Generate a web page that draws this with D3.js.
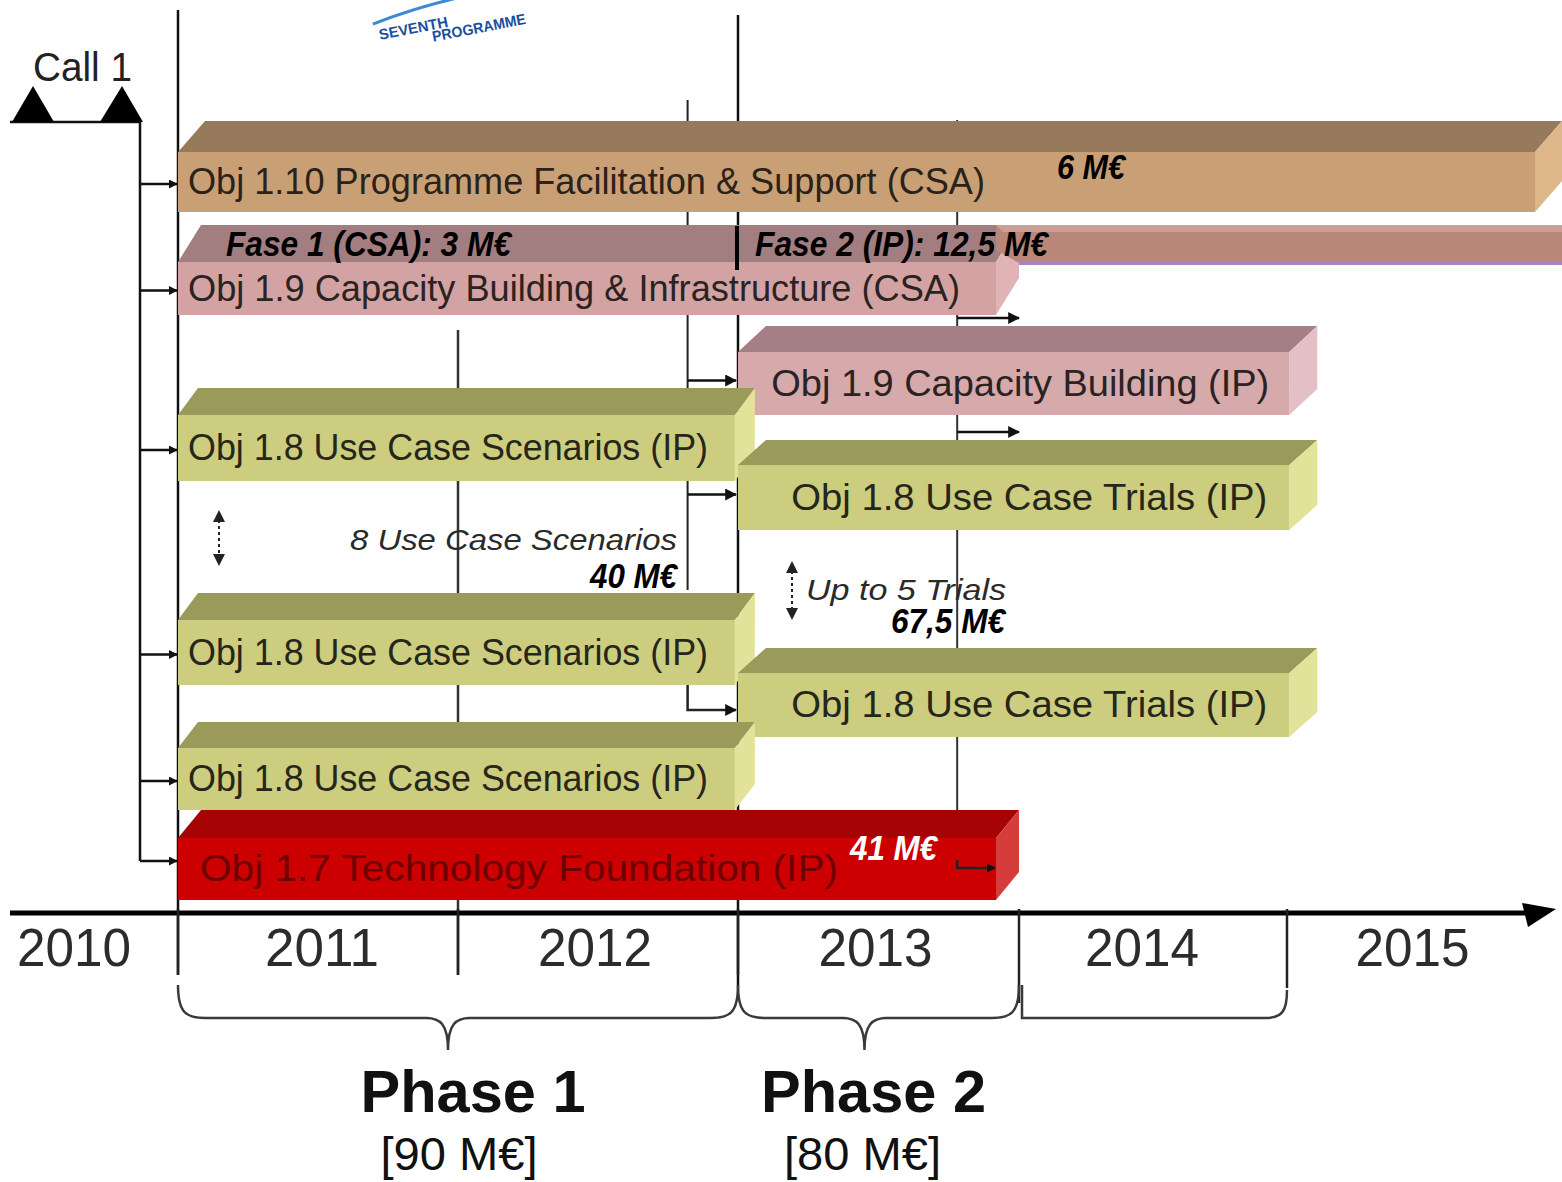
<!DOCTYPE html>
<html><head><meta charset="utf-8">
<script src="https://cdn.jsdelivr.net/npm/d3@7"></script>
<style>html,body{margin:0;padding:0;background:#fff;} svg{display:block}</style>
</head><body><svg id="c" width="1562" height="1182"></svg>
<script>
// ---------- DATA ----------
const years = [2010, 2011, 2012, 2013, 2014, 2015];
const yearBoundaries = [2011, 2012, 2013, 2014, 2015];
const taskLabels = [
  "Obj 1.10 Programme Facilitation & Support (CSA)",
  "Obj 1.9 Capacity Building & Infrastructure (CSA)",
  "Obj 1.9 Capacity Building (IP)",
  "Obj 1.8 Use Case Scenarios (IP)",
  "Obj 1.8 Use Case Trials (IP)",
  "Obj 1.8 Use Case Scenarios (IP)",
  "Obj 1.8 Use Case Trials (IP)",
  "Obj 1.8 Use Case Scenarios (IP)",
  "Obj 1.7 Technology Foundation (IP)"
];
const taskStart = [2011, 2011, 2013, 2011, 2013, 2011, 2013, 2011, 2011];
const taskEnd   = [2016, 2014, 2015.11, 2013.06, 2015.11, 2013.06, 2015.11, 2013.06, 2014];
const taskKind  = ["support", "csa", "capip", "use", "use", "use", "use", "use", "tech"];
const fase2Start = 2014, fase2End = 2016;
const phaseLabels  = ["Phase 1", "Phase 2"];
const phaseBudgets = ["[90 M€]", "[80 M€]"];
const phaseStart = [2011, 2013];
const phaseEnd   = [2013, 2014];
const callLabel = "Call 1";
const fundingNotes = ["6 M€", "Fase 1 (CSA): 3 M€", "Fase 2 (IP): 12,5 M€", "40 M€", "67,5 M€", "41 M€"];
const countNotes = ["8 Use Case Scenarios", "Up to 5 Trials"];
const logoWords = ["SEVENTH", "PROGRAMME"];

// ---------- LAYOUT / STYLE ----------
const W = 1562, H = 1182;
const svg = d3.select("#c");
svg.append("rect").attr("width", W).attr("height", H).attr("fill", "#fff");

const x = d3.scaleLinear()
  .domain([2010, 2011, 2012, 2013, 2014, 2015, 2016])
  .range([-30, 178, 458, 738, 1019, 1287, 1562]);

const rowTop  = [152, 262, 352, 415, 465, 620, 673, 748, 838];
const frontH  = [60, 53, 63, 66, 65, 65, 64, 62, 62];
const topH    = [31, 37, 26, 27, 25, 27, 25, 26, 28];
const depth   = [27, 23, 28, 20, 28, 20, 28, 20, 23];
const labelW  = [797, 772, 498, 520, 476, 520, 476, 520, 638];
const labelAlign = ["start", "start", "end", "start", "end", "start", "end", "start", "start"];
const labelPad = [10, 10, 20, 10, 22, 10, 22, 10, 22];
const yearNudge = [0, 4, -3, -3, -11, -12];
const palette = {
  support: {top: "#977a5c", front: "#c9a075", side: "#ddb68a", text: "#2b2219"},
  csa:     {top: "#a27e80", front: "#d3a3a4", side: "#e0b4b5", text: "#2b2222"},
  capip:   {top: "#a47f86", front: "#d6aaab", side: "#e3bfc6", text: "#2b2222"},
  use:     {top: "#9a9a5b", front: "#cdcd80", side: "#e2e29a", text: "#26261a"},
  tech:    {top: "#a60404", front: "#cc0000", side: "#d63c3c", text: "#6e0000"}
};
const FONT = "'Liberation Sans', Arial, sans-serif";
const NARROW = "'Liberation Sans Narrow', 'Liberation Sans', Arial, sans-serif";

function fit(sel, w) { return sel.attr("textLength", w).attr("lengthAdjust", "spacingAndGlyphs"); }

// ---------- logo ----------
const logo = svg.append("g").attr("transform", "translate(380,40) rotate(-11)");
logo.append("path").attr("d", "M-4,-17 Q50,-27 110,-27").attr("fill", "none").attr("stroke", "#3a8ad6").attr("stroke-width", 3);
fit(logo.append("text").attr("x", 0).attr("y", 0).attr("font-family", FONT).attr("font-weight", "bold")
  .attr("font-size", 15).attr("fill", "#1b4f9c").text(logoWords[0]), 70);
fit(logo.append("text").attr("x", 52).attr("y", 12).attr("font-family", FONT).attr("font-weight", "bold")
  .attr("font-size", 15).attr("fill", "#1b4f9c").text(logoWords[1]), 95);

// ---------- grid / connector lines (behind bars) ----------
const grid = svg.append("g");
grid.append("line").attr("x1", x(2011)).attr("x2", x(2011)).attr("y1", 10).attr("y2", 975).attr("stroke", "#111").attr("stroke-width", 2.5);
grid.append("line").attr("x1", x(2013)).attr("x2", x(2013)).attr("y1", 15).attr("y2", 985).attr("stroke", "#111").attr("stroke-width", 2.5);
grid.append("line").attr("x1", x(2012)).attr("x2", x(2012)).attr("y1", 330).attr("y2", 975).attr("stroke", "#333").attr("stroke-width", 2.5);

const defs = svg.append("defs");
defs.append("marker").attr("id", "ah").attr("viewBox", "0 0 10 10").attr("refX", 9).attr("refY", 5)
  .attr("markerWidth", 9).attr("markerHeight", 9).attr("markerUnits", "userSpaceOnUse").attr("orient", "auto")
  .append("path").attr("d", "M0,0 L10,5 L0,10 z").attr("fill", "#111");
defs.append("marker").attr("id", "ah2").attr("viewBox", "0 0 10 10").attr("refX", 9).attr("refY", 5)
  .attr("markerWidth", 12).attr("markerHeight", 12).attr("markerUnits", "userSpaceOnUse").attr("orient", "auto")
  .append("path").attr("d", "M0,0 L10,5 L0,10 z").attr("fill", "#111");

const cx1 = x(2012.82), cx2 = x(2013.78);
grid.append("line").attr("x1", cx1).attr("x2", cx1).attr("y1", 100).attr("y2", 590).attr("stroke", "#222").attr("stroke-width", 2);
grid.append("path").attr("d", `M${cx1},685 V${rowTop[6] + frontH[6] / 2 + 5} H${x(2013) - 2}`).attr("fill", "none")
  .attr("stroke", "#222").attr("stroke-width", 2.5).attr("marker-end", "url(#ah2)");
grid.append("line").attr("x1", cx2).attr("x2", cx2).attr("y1", 120).attr("y2", 868).attr("stroke", "#333").attr("stroke-width", 2);
[2, 4].forEach(i => {
  grid.append("line").attr("x1", cx1).attr("x2", x(2013) - 2)
    .attr("y1", rowTop[i] + frontH[i] / 2 - 3).attr("y2", rowTop[i] + frontH[i] / 2 - 3)
    .attr("stroke", "#111").attr("stroke-width", 2.5).attr("marker-end", "url(#ah2)");
});
[318, 432].forEach(yy => {
  grid.append("line").attr("x1", cx2).attr("x2", x(2014)).attr("y1", yy).attr("y2", yy)
    .attr("stroke", "#111").attr("stroke-width", 2.5).attr("marker-end", "url(#ah2)");
});

// ---------- 3D bars ----------
const bars = svg.append("g").selectAll("g").data(taskLabels.map((l, i) => i)).join("g");
bars.each(function(i) {
  const g = d3.select(this);
  const c = palette[taskKind[i]];
  const x0 = x(taskStart[i]), xe = x(taskEnd[i]), d = depth[i], x1 = xe - d;
  const yT = rowTop[i], yB = yT + frontH[i], dy = topH[i];
  g.append("polygon").attr("points", [[x0, yT], [x0 + d, yT - dy], [xe, yT - dy], [x1, yT]].join(" ")).attr("fill", c.top);
  g.append("polygon").attr("points", [[x1, yT], [xe, yT - dy], [xe, yB - dy], [x1, yB]].join(" ")).attr("fill", c.side);
  g.append("rect").attr("x", x0).attr("y", yT).attr("width", x1 - x0).attr("height", yB - yT).attr("fill", c.front);
  const tx = labelAlign[i] === "start" ? x0 + labelPad[i] : x1 - labelPad[i];
  fit(g.append("text").attr("x", tx).attr("y", yT + frontH[i] / 2 + 12)
    .attr("text-anchor", labelAlign[i]).attr("font-family", FONT).attr("font-size", 36)
    .attr("fill", c.text).text(taskLabels[i]), labelW[i]);
});

// ---------- Fase 2 extension strip ----------
const f2 = svg.append("g");
const fx0 = x(fase2Start), fx1 = x(fase2End);
f2.append("polygon").attr("points", [[fx0 - 23, 225], [fx1, 225], [fx1, 263], [fx0, 263], [fx0 - 23, 250]].join(" ")).attr("fill", "#b8877a");
f2.append("polygon").attr("points", [[fx0 - 23, 225], [fx1, 225], [fx1, 232], [fx0 - 16, 232]].join(" ")).attr("fill", "#c8a095");
f2.append("rect").attr("x", fx0).attr("y", 262).attr("width", fx1 - fx0).attr("height", 3).attr("fill", "#a784c6");

// arrow into red bar from right connector
svg.append("path").attr("d", `M${cx2},860 V868 H${x(2014) - 24}`).attr("fill", "none")
  .attr("stroke", "#222").attr("stroke-width", 2.5).attr("marker-end", "url(#ah)");

// Fase 2 separator
svg.append("rect").attr("x", x(2013) - 3).attr("y", 226).attr("width", 4).attr("height", 44).attr("fill", "#000");

// ---------- Call 1 and left connector ----------
const left = svg.append("g");
left.append("path").attr("d", `M10,122 H140 V${rowTop[8] + frontH[8] / 2 - 8}`).attr("fill", "none").attr("stroke", "#111").attr("stroke-width", 2.5);
left.append("polygon").attr("points", "12,122 33,86 54,122").attr("fill", "#000");
left.append("polygon").attr("points", "100,122 122,86 143,122").attr("fill", "#000");
fit(left.append("text").attr("x", 33).attr("y", 81).attr("font-family", FONT).attr("font-size", 40).attr("fill", "#222").text(callLabel), 99);
[0, 1, 3, 5, 7, 8].forEach(i => {
  const yy = rowTop[i] + frontH[i] / 2 + (i === 8 ? -8 : 2);
  left.append("line").attr("x1", 140).attr("x2", x(2011) - 1).attr("y1", yy).attr("y2", yy)
    .attr("stroke", "#111").attr("stroke-width", 2.5).attr("marker-end", "url(#ah)");
});

// ---------- annotations ----------
const ann = svg.append("g").attr("font-family", NARROW);
function note(txt, xx, yy, anchor, w, opts) {
  const t = ann.append("text").attr("x", xx).attr("y", yy).attr("text-anchor", anchor)
    .attr("font-size", opts.size || 35).attr("font-weight", opts.weight || "bold").attr("font-style", "italic")
    .attr("fill", opts.fill || "#000").text(txt);
  fit(t, w);
}
note(fundingNotes[0], 1057, 179, "start", 68, {});
note(fundingNotes[1], 226, 256, "start", 285, {});
note(fundingNotes[2], 755, 256, "start", 293, {});
note(countNotes[0], 677, 550, "end", 327, {weight: "normal", size: 30, fill: "#2a2a2a"});
note(fundingNotes[3], 677, 588, "end", 87, {});
note(countNotes[1], 806, 600, "start", 200, {weight: "normal", size: 30, fill: "#2a2a2a"});
note(fundingNotes[4], 1005, 633, "end", 114, {});
note(fundingNotes[5], 850, 860, "start", 87, {fill: "#fff"});

// dashed double arrows
function dbl(xx, y1, y2) {
  const g = svg.append("g");
  g.append("line").attr("x1", xx).attr("x2", xx).attr("y1", y1 + 10).attr("y2", y2 - 10)
    .attr("stroke", "#222").attr("stroke-width", 2).attr("stroke-dasharray", "3,3");
  g.append("polygon").attr("points", `${xx - 6},${y1 + 12} ${xx},${y1} ${xx + 6},${y1 + 12}`).attr("fill", "#222");
  g.append("polygon").attr("points", `${xx - 6},${y2 - 12} ${xx},${y2} ${xx + 6},${y2 - 12}`).attr("fill", "#222");
}
dbl(219, 510, 566);
dbl(792, 561, 620);

// ---------- time axis ----------
const axisG = svg.append("g").attr("transform", "translate(0,913)");
axisG.append("line").attr("x1", 10).attr("x2", 1528).attr("y1", 0).attr("y2", 0).attr("stroke", "#000").attr("stroke-width", 5);
axisG.append("polygon").attr("points", "1522,-10 1556,-4 1528,14").attr("fill", "#000");
axisG.selectAll("line.tick").data(yearBoundaries).join("line").attr("class", "tick")
  .attr("x1", d => x(d)).attr("x2", d => x(d)).attr("y1", -4)
  .attr("y2", d => d === 2015 ? 75 : (d === 2014 ? 90 : 62))
  .attr("stroke", "#222").attr("stroke-width", 2.5);
axisG.selectAll("text.yr").data(years).join("text").attr("class", "yr")
  .attr("x", (d, i) => x(d + 0.5) + yearNudge[i]).attr("y", 53).attr("text-anchor", "middle")
  .attr("font-family", FONT).attr("font-size", 54).attr("fill", "#2c2c2c")
  .attr("textLength", 114).attr("lengthAdjust", "spacingAndGlyphs").text(d => d);

// ---------- phase braces ----------
function brace(xa, xb, xm, yTop, yMid, yTip) {
  return `M${xa},${yTop} C${xa},${yMid - 5} ${xa + 8},${yMid} ${xa + 28},${yMid} ` +
    `L${xm - 22},${yMid} C${xm - 8},${yMid} ${xm},${yMid + 6} ${xm},${yTip} ` +
    `C${xm},${yMid + 6} ${xm + 8},${yMid} ${xm + 22},${yMid} ` +
    `L${xb - 28},${yMid} C${xb - 8},${yMid} ${xb},${yMid - 5} ${xb},${yTop}`;
}
const ph = svg.append("g");
const phaseTextDx = [25, 9], phaseBudgetDx = [11, -2];
phaseLabels.forEach((p, i) => {
  const xa = x(phaseStart[i]), xb = x(phaseEnd[i]);
  const xm = i === 0 ? (xa + xb) / 2 - 10 : (xa + xb) / 2 - 14;
  ph.append("path").attr("d", brace(xa, xb, xm, 985, 1018, 1050)).attr("fill", "none")
    .attr("stroke", "#3a3a3a").attr("stroke-width", 2.5);
  fit(ph.append("text").attr("x", xm + phaseTextDx[i]).attr("y", 1112).attr("text-anchor", "middle")
    .attr("font-family", FONT).attr("font-size", 60).attr("font-weight", "bold").attr("fill", "#111").text(p), 225);
  fit(ph.append("text").attr("x", xm + phaseBudgetDx[i]).attr("y", 1170).attr("text-anchor", "middle")
    .attr("font-family", FONT).attr("font-size", 46).attr("fill", "#111").text(phaseBudgets[i]), 157);
});
// trailing bracket segment 2014-2015
ph.append("path").attr("d", `M${x(2014) + 3},985 V1018 L${x(2015) - 22},1018 C${x(2015) - 4},1018 ${x(2015)},1010 ${x(2015)},990`)
  .attr("fill", "none").attr("stroke", "#3a3a3a").attr("stroke-width", 2.5);
</script></body></html>
